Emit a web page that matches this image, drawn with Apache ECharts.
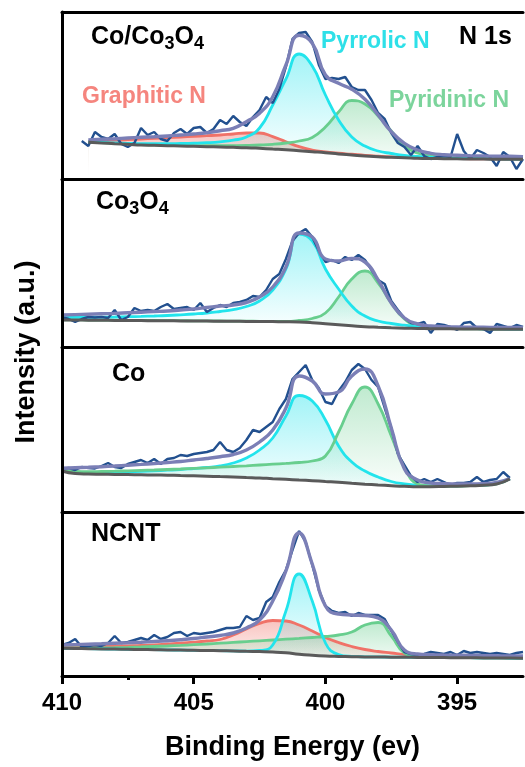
<!DOCTYPE html>
<html><head><meta charset="utf-8">
<script src="https://cdn.jsdelivr.net/npm/echarts@6/dist/echarts.min.js"></script>
<style>html,body{margin:0;padding:0;background:#fff}#c{width:525px;height:767px}</style>
</head><body><div id="c"></div>
<script>
// ---------------- DATA ----------------
const energyFit = [410,409.5,409,408.5,408,407.5,407,406.5,406,405.5,405,404.5,404,403.5,403,402.5,402,401.5,401,400.5,400,399.5,399,398.5,398,397.5,397,396.5,396,395.5,395,394.5,394,393.5,393,392.5];
const energyRaw = [410,409.75,409.5,409.25,409,408.75,408.5,408.25,408,407.75,407.5,407.25,407,406.75,406.5,406.25,406,405.75,405.5,405.25,405,404.75,404.5,404.25,404,403.75,403.5,403.25,403,402.75,402.5,402.25,402,401.75,401.5,401.25,401,400.75,400.5,400.25,400,399.75,399.5,399.25,399,398.75,398.5,398.25,398,397.75,397.5,397.25,397,396.75,396.5,396.25,396,395.75,395.5,395.25,395,394.75,394.5,394.25,394,393.75,393.5,393.25,393,392.75,392.5];
const xTickLabels = [395,400,405,410];
const xMinorTicks = [397.5,402.5,407.5];

// Panel 1: Co/Co3O4
const p1Raw = [null,null,null,38,33,47,42,40,45,35,32,36,51,44,47,40,38,46,50,45,51,52,46,50,59,55,63,57,53,62,69,82,76,90,112,140,146,147,137,114,100,101,100,102,92,89,89,79,66,60,46,36,32,24,33,23,20,22,23,22,45,28,20,29,26,22,13,27,22,10,20];
const p1Base = [null,null,36.7,36,35.3,34.7,34,33.7,33.3,33,32.7,32.3,32,31.7,31.3,30.7,30,29.3,28.3,27.3,26.3,25,24,23,22.3,21.7,21.3,20.8,20.5,20.3,20.2,20,19.9,19.8,19.7,19.7];
const p1Env = [null,null,39,39.7,40.3,41,41.7,42.3,43,44,45,46.3,48.3,50.7,57.3,65.7,82.3,114,143.7,135.7,104,95.7,89.7,79.7,64,47.3,35.7,29,25.7,24.3,23.7,23.3,23,22.7,22.7,22.3];
const p1Pyrrolic = [null,null,37,36.5,36,35.7,35.3,35.3,35.3,35.5,35.8,36.3,37.2,38.8,42,51,74,100,125,113,84,59,42,33,28,25.5,23.5,22.5,21.5,21,20.7,20.5,20.3,20.2,20,20];
const p1Pyridinic = [null,null,37,36.3,35.6,35,34.4,34.1,33.8,33.6,33.4,33.3,33.3,33.4,33.6,34,34.7,36,38,41.5,52,67,78.5,75,63,48,33,26,23,21.7,21.2,20.8,20.5,20.3,20.1,20];
const p1Graphitic = [null,null,37.7,38,38.7,39.3,40,40.7,41.3,42,42.7,43.3,44,45,46,46,42.3,37.3,32.3,29,27.2,25.8,24.8,23.7,22.9,22.2,21.7,21.2,20.8,20.6,20.4,20.2,20.1,20,19.9,19.9];

// Panel 2: Co3O4
const p2Raw = [30,28,25,28,30,29.5,30,29,37,27,30,39,36,37,36,40,43,38,39,40,37,44,35,39,42,40,44,45,47,51,50,57,68,73,88,106,114,118,110,96,85,87,84,90,87,92,87,77,67,63,46,37,29,24,23,25,14,23,22,20,17,24,25,19,18,14,23,21,19,22,20];
const p2Base = [27,27,26.8,26.7,26.6,26.5,26.4,26.3,26.2,26.1,26,25.9,25.8,25.7,25.6,25.5,25.4,25.3,25,24.3,23.3,22.3,21.3,20.3,19.7,19.2,18.8,18.5,18.3,18.2,18.1,18,17.9,17.8,17.7,17.7];
const p2Env = [32,32.4,32.8,33.2,33.6,34.2,34.8,35.4,36,37,38,39.5,41,42,44.5,50,60,80,114,110,88,86,88.5,85,67,44,29,23,21,20.3,20,19.8,19.7,19.6,19.5,19.5];
const p2Pyrrolic = [29.5,29.6,29.7,29.8,30,30.3,30.6,31,31.5,32.2,33,34,35.5,37.3,40.5,46,57,78,113,106,78,58,41,31,26,23.5,21.8,20.5,19.6,19,18.7,18.4,18.2,18.1,18,18];
const p2Pyridinic = [27.2,27.1,27,26.9,26.8,26.7,26.6,26.5,26.4,26.3,26.2,26.1,26,25.9,25.8,25.7,25.6,25.6,26.5,28.5,34,50,68,76,64,44,28,21,19,18.5,18.3,18.1,18,17.9,17.8,17.8];

// Panel 3: Co
const p3Raw = [43,44,42,45,44,43.5,46,49,45,44,48,50,52,49,53,48,53,54,57,56,58,59,60,62,70,62,60,64,72,82,80,85,90,103,113,133,140,147,132,124,110,108,121,130,142,148,143,132,125,104,84,58,47,36,30,33,30,33,30,27,29,29,30,35,30,32,33,40,34,null,null];
const p3Base = [41,38.5,38,37.8,37.6,37.4,37.2,37,36.8,36.5,36.2,35.8,35.4,35,34.5,34,33.3,32.7,32,31.3,30.5,29.7,28.7,27.8,27,26.3,25.7,25.3,25.3,25.5,25.8,26.2,26.7,28,33,null];
const p3Env = [43.7,44.2,44.7,45.3,46,46.8,47.6,48.5,49.5,50.5,52,53.5,55.3,57.5,62,70,82,104,136,131,118,120,136,143,126,84,43,32,29,28.3,28,28,28.3,29.5,33.5,null];
const p3Pyrrolic = [41.5,39.5,39.5,39.7,40,40.3,40.7,41.2,41.8,42.5,43.5,44.5,46,49,54,62,74,96,116.5,111,92,66,50,41,35,30.5,28,26.5,26,26,26.2,26.6,27,28.3,33.3,null];
const p3Pyridinic = [41.8,40.5,40.3,40.5,40.8,41.2,41.6,42,42.5,43,43.6,44.2,44.8,45.5,46.2,47,47.8,48.6,49.5,51,56,80,108,125,108,76,45,28,26,25.8,26,26.4,26.9,28.2,33.2,null];

// Panel 4: NCNT
const p4Raw = [31,33,37,29,30,31,30,33,40,33,34,36,38,36,41,37,39,43,44,40,43,42,43,44,46,48,48,49,60,56,58,74,79,94,106,126,145,134,111,86,70,65,63,64,60,63,61,61,61,57,45,34,24,22,21,22,24,23,22,24,21,25,23,24,23,22,23,22,21,23,24];
const p4Base = [27.7,27.5,27.3,27.1,26.9,26.7,26.5,26.3,26.1,25.9,25.7,25.5,25.3,25,24.7,24.4,24,23.2,21.7,20.7,20,19.6,19.3,19.1,19,18.8,18.7,18.6,18.5,18.4,18.3,18.2,18.1,18,17.9,17.8];
const p4Env = [31,31.4,31.8,32.2,32.7,33.2,33.8,34.5,35.3,36.3,37.5,39,40.5,43,48,56,75,105,143,112,70,62,61,60.5,58,46,26,22,21.3,21,20.8,20.6,20.4,20.2,20.1,20];
const p4Pyrrolic = [27.7,27.5,27.3,27.1,26.9,26.7,26.5,26.3,26.1,25.9,25.7,25.5,25.3,25.1,24.9,25.5,31,65,102,75,33,21.5,19.6,19.2,19.1,18.9,18.8,18.7,18.6,18.5,18.4,18.3,18.2,18.1,18,17.9];
const p4Graphitic = [28.5,28.8,29.2,29.5,29.8,30.2,30.6,31.2,32,32.8,33.8,35,36.5,41,47,52.7,55.5,55,51,45,38.5,33.5,29.5,26.5,24.5,23,21.5,20.5,19.8,19.3,19,18.7,18.5,18.3,18.2,18.1];
const p4Pyridinic = [28,28,28,28.1,28.3,28.6,29,29.5,30,30.6,31.3,32,32.8,33.6,34.4,35.2,36,36.8,37.6,38.5,39.5,41,44,51,53.5,40,23,19.5,18.7,18.5,18.4,18.3,18.2,18.1,18,17.9];

// ---------------- LAYOUT / STYLE ----------------
const FONT = '"Liberation Sans", Arial, sans-serif';
const gridTops = [12,179,347,512];
const gridHeights = [167,168,165,164];
const COL = {
  Pyrrolic: '34,228,236',
  Pyridinic: '104,206,142',
  Graphitic: '240,114,104'
};
const panels = [
  {raw:p1Raw, base:p1Base, env:p1Env, comps:[['Graphitic',p1Graphitic],['Pyridinic',p1Pyridinic],['Pyrrolic',p1Pyrrolic]]},
  {raw:p2Raw, base:p2Base, env:p2Env, comps:[['Pyridinic',p2Pyridinic],['Pyrrolic',p2Pyrrolic]]},
  {raw:p3Raw, base:p3Base, env:p3Env, comps:[['Pyrrolic',p3Pyrrolic],['Pyridinic',p3Pyridinic]]},
  {raw:p4Raw, base:p4Base, env:p4Env, comps:[['Graphitic',p4Graphitic],['Pyridinic',p4Pyridinic],['Pyrrolic',p4Pyrrolic]]}
];

const V = v => (v === null || v === undefined) ? '-' : v;
const pairs = (xs, ys) => xs.map((e, k) => [e, V(ys[k])]);

const grids = [], xAxes = [], yAxes = [], series = [];
panels.forEach((p, i) => {
  grids.push({left:62, right:2, top:gridTops[i], height:gridHeights[i], containLabel:false});
  yAxes.push({gridIndex:i, type:'value', min:0, max:gridHeights[i], z:10,
    axisLine:{show:true, lineStyle:{color:'#000', width:3}},
    axisTick:{show:false}, axisLabel:{show:false}, splitLine:{show:false}});
  const isLast = i === panels.length - 1;
  xAxes.push({gridIndex:i, type:'value', min:392.5, max:410, inverse:true, position:'bottom', z:10,
    axisLine:{show:true, onZero:false, lineStyle:{color:'#000', width:3}},
    axisTick: isLast ? {show:true, customValues:xTickLabels, length:8, lineStyle:{color:'#000', width:3}} : {show:false},
    axisLabel: isLast ? {show:true, customValues:xTickLabels, fontSize:24, fontWeight:'bold', color:'#000', fontFamily:FONT, margin:15} : {show:false},
    splitLine:{show:false},
    name: isLast ? 'Binding Energy (ev)' : '',
    nameLocation:'middle', nameGap:58,
    nameTextStyle:{fontSize:27, fontWeight:'bold', color:'#000', fontFamily:FONT}
  });
});
xAxes.push({gridIndex:3, type:'value', min:392.5, max:410, inverse:true, position:'bottom', z:10,
  axisLine:{show:false, onZero:false}, axisTick:{show:true, customValues:xMinorTicks, length:4, lineStyle:{color:'#000', width:3}},
  axisLabel:{show:false}, splitLine:{show:false}});
xAxes.push({gridIndex:0, type:'value', min:392.5, max:410, inverse:true, position:'top', z:10,
  axisLine:{show:true, onZero:false, lineStyle:{color:'#000', width:3}},
  axisTick:{show:false}, axisLabel:{show:false}, splitLine:{show:false}});

panels.forEach((p, i) => {
  // component peaks: gradient fill
  p.comps.forEach(([name, arr]) => {
    const c = COL[name];
    series.push({type:'line', name:name, xAxisIndex:i, yAxisIndex:i, smooth:true, symbol:'none', silent:true,
      lineStyle:{color:'rgb(' + c + ')', width:2.8},
      areaStyle:{color:new echarts.graphic.LinearGradient(0,0,0,1,[
        {offset:0, color:'rgba(' + c + ',0.6)'},
        {offset:0.8, color:'rgba(' + c + ',0.05)'},
        {offset:1, color:'rgba(' + c + ',0.0)'}])},
      data: pairs(energyFit, arr)});
  });
  // white area below the background line
  series.push({type:'line', xAxisIndex:i, yAxisIndex:i, smooth:true, symbol:'none', silent:true,
    lineStyle:{width:0, opacity:0}, areaStyle:{color:'#ffffff', opacity:1},
    data: pairs(energyFit, p.base)});
  // raw spectrum
  series.push({type:'line', xAxisIndex:i, yAxisIndex:i, symbol:'none', silent:true,
    lineStyle:{color:'#22508f', width:2.4},
    data: pairs(energyRaw, p.raw)});
  // envelope
  series.push({type:'line', xAxisIndex:i, yAxisIndex:i, smooth:true, symbol:'none', silent:true,
    lineStyle:{color:'#7b7fb6', width:3.4},
    data: pairs(energyFit, p.env)});
  // background
  series.push({type:'line', xAxisIndex:i, yAxisIndex:i, smooth:true, symbol:'none', silent:true,
    lineStyle:{color:'#5a5a5a', width:3},
    data: pairs(energyFit, p.base)});
});

const subRich = {
  a:{fontSize:25, fontWeight:'bold', color:'#000', fontFamily:FONT, verticalAlign:'bottom', padding:[0,0,3,0]},
  s:{fontSize:18, fontWeight:'bold', color:'#000', fontFamily:FONT, verticalAlign:'bottom'}
};
const titles = [
  {text:'{a|Co/Co}{s|3}{a|O}{s|4}', left:91, top:25, padding:0, textStyle:{rich:subRich}},
  {text:'{a|Co}{s|3}{a|O}{s|4}', left:96, top:190, padding:0, textStyle:{rich:subRich}},
  {text:'Co', left:112, top:362, padding:0, textStyle:{fontSize:25, fontWeight:'bold', color:'#000', fontFamily:FONT}},
  {text:'NCNT', left:91, top:522, padding:0, textStyle:{fontSize:25, fontWeight:'bold', color:'#000', fontFamily:FONT}},
  {text:'N 1s', left:459, top:25, padding:0, textStyle:{fontSize:25, fontWeight:'bold', color:'#000', fontFamily:FONT}},
  {text:'Pyrrolic N', left:321, top:30, padding:0, textStyle:{fontSize:23, fontWeight:'bold', color:'#2ee0e8', fontFamily:FONT}},
  {text:'Graphitic N', left:82, top:85, padding:0, textStyle:{fontSize:23, fontWeight:'bold', color:'#f5857e', fontFamily:FONT}},
  {text:'Pyridinic N', left:389, top:89, padding:0, textStyle:{fontSize:23, fontWeight:'bold', color:'#7cd49c', fontFamily:FONT}}
];

const chart = echarts.init(document.getElementById('c'), null, {renderer:'canvas'});
chart.setOption({
  animation:false,
  backgroundColor:'#fff',
  textStyle:{fontFamily:FONT},
  title: titles,
  grid: grids,
  xAxis: xAxes,
  yAxis: yAxes,
  series: series,
  graphic:[{type:'text', x:27, y:352, rotation:Math.PI/2,
    style:{text:'Intensity (a.u.)', fontSize:27, fontWeight:'bold', fontFamily:FONT, fill:'#000', align:'center', verticalAlign:'middle'}}]
});
</script>
</body></html>
